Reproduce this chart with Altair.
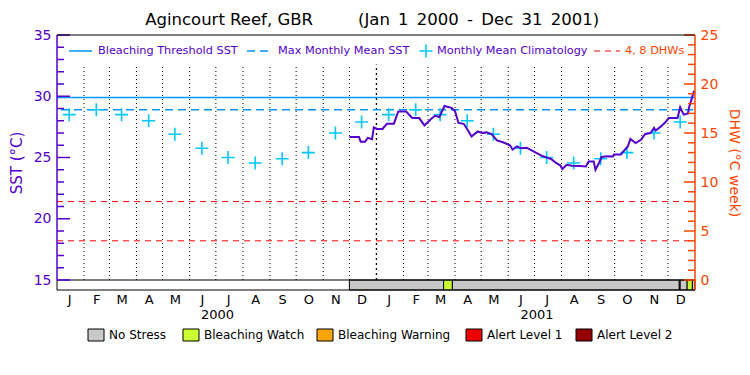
import altair as alt
import pandas as pd

FONT = "DejaVu Sans"
PURPLE = "#5500CC"
ORANGE = "#FF4500"
BLUE = "#0096FF"
CYAN = "#00C8FF"
RED = "#FF0000"

# ---------------- data ----------------
title_left = "Agincourt Reef, GBR"
title_right = "(Jan\u20021\u20022000\u2002-\u2002Dec\u200231\u20022001)"

sst_dates = [
    "2000-12-01", "2000-12-12", "2000-12-14", "2000-12-19", "2000-12-22", "2000-12-27", "2000-12-29",
    "2001-01-02", "2001-01-08", "2001-01-13", "2001-01-21", "2001-01-26", "2001-02-04", "2001-02-08",
    "2001-02-11", "2001-02-19", "2001-02-25", "2001-03-04", "2001-03-09", "2001-03-14", "2001-03-20",
    "2001-03-28", "2001-04-01", "2001-04-05", "2001-04-11", "2001-04-16", "2001-04-20", "2001-04-27",
    "2001-05-02", "2001-05-07", "2001-05-13", "2001-05-19", "2001-05-26", "2001-06-03", "2001-06-06",
    "2001-06-11", "2001-06-16", "2001-06-22", "2001-06-30", "2001-07-09", "2001-07-20", "2001-07-25",
    "2001-07-31", "2001-08-02", "2001-08-07", "2001-08-13", "2001-08-22", "2001-08-29", "2001-09-01",
    "2001-09-07", "2001-09-09", "2001-09-13", "2001-09-16", "2001-09-22", "2001-09-29", "2001-09-30",
    "2001-10-08", "2001-10-11", "2001-10-16", "2001-10-19", "2001-10-25", "2001-10-31", "2001-11-05",
    "2001-11-11", "2001-11-15", "2001-11-17", "2001-11-23", "2001-11-28", "2001-12-02", "2001-12-12",
    "2001-12-15", "2001-12-19", "2001-12-24", "2001-12-25", "2001-12-29", "2001-12-31",
]
sst_values = [
    26.67, 26.67, 26.29, 26.29, 26.60, 26.50, 27.46,
    27.33, 27.33, 27.76, 27.76, 28.76, 28.76, 28.45,
    28.22, 28.22, 27.62, 28.10, 28.40, 28.30, 29.20,
    29.05, 28.80, 27.82, 27.75, 27.20, 26.72, 27.13,
    27.00, 27.05, 26.90, 26.40, 26.24, 26.00, 25.64,
    25.90, 25.75, 25.80, 25.50, 25.15, 24.88, 24.60,
    24.33, 24.06, 24.41, 24.33, 24.30, 24.27, 24.68,
    24.68, 24.00, 24.55, 25.04, 25.10, 25.09, 25.25,
    25.25, 25.50, 25.90, 26.51, 26.18, 26.45, 26.92,
    27.00, 27.41, 27.20, 27.54, 27.87, 28.22, 28.22,
    29.10, 28.50, 28.60, 29.04, 29.99, 30.45,
]

clim_monthly = [28.5, 28.9, 28.5, 28.0, 26.9, 25.75, 25.0, 24.55, 24.9, 25.4, 27.0, 27.9]
years_num = [2000, 2001]
clim_dates = [f"{y}-{m:02d}-15" for y in years_num for m in range(1, 13)]
clim_values = clim_monthly * len(years_num)

month_letters = ["J", "F", "M", "A", "M", "J", "J", "A", "S", "O", "N", "D"]
month_lines = [f"{y}-{m:02d}-01" for y in years_num for m in range(1, 13) if m != 1]
year_lines = ["2001-01-01"]
year_labels = ["2000", "2001"]
year_label_dates = ["2000-07-03", "2001-07-04"]

threshold_sst = 29.9
mmm_sst = 28.9
dhw_levels = [4, 8]

stress_levels = ["No Stress", "Bleaching Watch", "Bleaching Warning", "Alert Level 1", "Alert Level 2"]
stress_colors = ["#C8C8C8", "#CCFF33", "#FAA50A", "#EE0000", "#960000"]
stress_start = ["2000-12-01", "2001-03-19", "2001-03-29", "2001-12-14", "2001-12-15", "2001-12-23", "2001-12-29"]
stress_end = ["2001-03-19", "2001-03-29", "2001-12-14", "2001-12-15", "2001-12-23", "2001-12-29", "2002-01-01"]
stress_cat = ["No Stress", "Bleaching Watch", "No Stress", "Bleaching Watch", "No Stress", "Bleaching Watch", "No Stress"]

legend_labels = ["Bleaching Threshold SST", "Max Monthly Mean SST", "Monthly Mean Climatology", "4, 8 DHWs"]

sst_major = [15, 20, 25, 30, 35]
sst_minor = [v for v in range(16, 35) if v % 5]
dhw_major = [0, 5, 10, 15, 20, 25]
dhw_minor = [v for v in range(1, 25) if v % 5]

# ---------------- layout ----------------
W, H = 638, 255
STRIP_PX = 10
px_per_c = (H - STRIP_PX) / (35 - 15)
sst_low = 15 - STRIP_PX / px_per_c
dhw_per_c = 25 / (35 - 15)
dhw_low = (sst_low - 15) * dhw_per_c

xsc = alt.Scale(type="utc", domain=[alt.DateTime(year=2000, month=1, date=1, utc=True),
                                    alt.DateTime(year=2002, month=1, date=1, utc=True)])
ysc = alt.Scale(domain=[sst_low, 35], nice=False, zero=False)
dsc = alt.Scale(domain=[dhw_low, 25], nice=False, zero=False)

label_expr = "[" + ",".join(f"'{m}'" for m in month_letters) + "][utcmonth(datum.value)]"
x_axis = alt.Axis(
    values=[alt.DateTime(year=y, month=m, date=15, utc=True) for y in years_num for m in range(1, 13)],
    labelExpr=label_expr, ticks=False, domain=False, grid=False, labelAngle=0,
    labelFont=FONT, labelFontSize=13, labelColor="black", labelPadding=3,
    labelOverlap=False, labelFlush=False, title=None,
)


def X(field):
    return alt.X(field, type="temporal", scale=xsc, axis=x_axis)


def YS(field):
    return alt.Y(field, type="quantitative", scale=ysc, axis=None)


one = pd.DataFrame({"k": [0]})

# month dotted lines
df_ml = pd.DataFrame({"d": month_lines})
df_ml["top"] = 32.6
df_ml["bot"] = 15
month_rules = alt.Chart(df_ml).mark_rule(color="black", strokeDash=[1, 3], strokeWidth=1).encode(
    x=X("d"), y=YS("bot"), y2="top")
df_yl = pd.DataFrame({"d": year_lines})
df_yl["top"] = 32.6
df_yl["bot"] = 15
year_rules = alt.Chart(df_yl).mark_rule(color="black", strokeDash=[2, 3], strokeWidth=1.3).encode(
    x=X("d"), y=YS("bot"), y2="top")

# threshold lines
thr = alt.Chart(pd.DataFrame({"v": [threshold_sst]})).mark_rule(color=BLUE, strokeWidth=1.5).encode(
    y=YS("v"), x=alt.value(0), x2=alt.value(W))
mmm = alt.Chart(pd.DataFrame({"v": [mmm_sst]})).mark_rule(color=BLUE, strokeWidth=1.5, strokeDash=[8, 5]).encode(
    y=YS("v"), x=alt.value(4), x2=alt.value(W))

# DHW lines (on DHW scale)
dhw_lines = alt.Chart(pd.DataFrame({"v": dhw_levels})).mark_rule(color=RED, strokeWidth=1, strokeDash=[6, 5]).encode(
    y=alt.Y("v:Q", scale=dsc, axis=None), x=alt.value(0), x2=alt.value(W))

# stress strip
df_s = pd.DataFrame({"s": stress_start, "e": stress_end, "cat": stress_cat})
df_s["top"] = 15
df_s["bot"] = sst_low
strip = alt.Chart(df_s).mark_rect(stroke="black", strokeWidth=1).encode(
    x=X("s"), x2="e", y=YS("bot"), y2="top",
    color=alt.Color("cat:N", scale=alt.Scale(domain=stress_levels, range=stress_colors), legend=None),
)
strip_top = alt.Chart(pd.DataFrame({"v": [15]})).mark_rule(color="black", strokeWidth=1).encode(
    y=YS("v"), x=alt.value(0), x2=alt.value(W))

# climatology crosses
cross_shape = "M-1,0L1,0M0,-1L0,1"
clim = alt.Chart(pd.DataFrame({"d": clim_dates, "v": clim_values})).mark_point(
    shape=cross_shape, size=169, filled=False, color=CYAN, strokeWidth=1.6, opacity=1).encode(
    x=X("d"), y=YS("v"))

# SST line
sst_line = alt.Chart(pd.DataFrame({"d": sst_dates, "v": sst_values})).mark_line(
    color=PURPLE, strokeWidth=2).encode(
    x=X("d"),
    y=alt.Y("v:Q", scale=ysc, axis=alt.Axis(
        values=sst_major, ticks=False, domain=False, grid=False,
        labelFont=FONT, labelFontSize=14, labelColor=PURPLE, labelPadding=6,
        title="SST (°C)", titleFont=FONT, titleFontSize=15, titleFontWeight="normal",
        titleColor=PURPLE, titlePadding=9)),
)

# left axis line & ticks
left_line = alt.Chart(pd.DataFrame({"a": [15], "b": [35]})).mark_rule(color=PURPLE, strokeWidth=1.5).encode(
    y=YS("a"), y2="b", x=alt.value(0))
left_major = alt.Chart(pd.DataFrame({"v": sst_major})).mark_rule(color=PURPLE, strokeWidth=1.5).encode(
    y=YS("v"), x=alt.value(0), x2=alt.value(13))
left_minor = alt.Chart(pd.DataFrame({"v": sst_minor})).mark_rule(color=PURPLE, strokeWidth=1.5).encode(
    y=YS("v"), x=alt.value(0), x2=alt.value(7))

# right axis (DHW)
right_axis_layer = alt.Chart(pd.DataFrame({"v": dhw_major})).mark_rule(color=ORANGE, strokeWidth=1.5).encode(
    y=alt.Y("v:Q", scale=dsc, axis=alt.Axis(
        orient="right", values=dhw_major, ticks=False, domain=False, grid=False,
        labelFont=FONT, labelFontSize=14, labelColor=ORANGE, labelPadding=5,
        title="DHW (°C week)", titleFont=FONT, titleFontSize=14, titleFontWeight="normal",
        titleColor=ORANGE, titlePadding=9)),
    x=alt.value(W), x2=alt.value(W - 11))
right_minor = alt.Chart(pd.DataFrame({"v": dhw_minor})).mark_rule(color=ORANGE, strokeWidth=1.5).encode(
    y=alt.Y("v:Q", scale=dsc, axis=None), x=alt.value(W), x2=alt.value(W - 7))

# frame
frame_top = alt.Chart(one).mark_rule(color="black", strokeWidth=1).encode(
    x=alt.value(0), x2=alt.value(W), y=alt.value(0))
frame_bot = alt.Chart(one).mark_rule(color="black", strokeWidth=1).encode(
    x=alt.value(0), x2=alt.value(W), y=alt.value(H))
frame_left = alt.Chart(one).mark_rule(color="black", strokeWidth=1).encode(
    x=alt.value(0), y=alt.value(H - STRIP_PX), y2=alt.value(H))
frame_right = alt.Chart(one).mark_rule(color=ORANGE, strokeWidth=1.5).encode(
    x=alt.value(W), y=alt.value(0), y2=alt.value(H))

# title (two parts with a wide gap as in the original)
title_l = alt.Chart(pd.DataFrame({"t": [title_left]})).mark_text(
    font=FONT, fontSize=16.5, color="black", align="right", baseline="alphabetic").encode(
    x=alt.value(256), y=alt.value(-10), text="t:N")
title_r = alt.Chart(pd.DataFrame({"t": [title_right]})).mark_text(
    font=FONT, fontSize=16.5, color="black", align="left", baseline="alphabetic").encode(
    x=alt.value(301), y=alt.value(-10), text="t:N")

# year labels
years_txt = alt.Chart(pd.DataFrame({"d": year_label_dates, "t": year_labels})).mark_text(
    font=FONT, fontSize=13, color="black", baseline="middle", align="center").encode(
    x=X("d"), y=alt.value(280), text="t:N")

# top legend
LY = 16
LFS = 11.3


def leg_text(label, x, color):
    return alt.Chart(pd.DataFrame({"t": [label]})).mark_text(
        font=FONT, fontSize=LFS, color=color, align="left", baseline="middle").encode(
        x=alt.value(x), y=alt.value(LY), text="t:N")


leg1_line = alt.Chart(one).mark_rule(color=BLUE, strokeWidth=1.5).encode(
    x=alt.value(12), x2=alt.value(35), y=alt.value(LY))
leg2_line = alt.Chart(one).mark_rule(color=BLUE, strokeWidth=1.5, strokeDash=[8, 5]).encode(
    x=alt.value(190), x2=alt.value(216), y=alt.value(LY))
leg3_pt = alt.Chart(one).mark_point(shape=cross_shape, size=169, filled=False, color=CYAN,
                                    strokeWidth=1.6, opacity=1).encode(
    x=alt.value(369), y=alt.value(LY))
leg4_line = alt.Chart(one).mark_rule(color=RED, strokeWidth=1, strokeDash=[6, 5]).encode(
    x=alt.value(537), x2=alt.value(563), y=alt.value(LY))

# bottom (stress level) legend
stress_leg_x = [31, 126, 260, 409, 519]
BY0, BY1 = 294, 306
stress_leg = []
for lab, col, lx in zip(stress_levels, stress_colors, stress_leg_x):
    stress_leg.append(alt.Chart(pd.DataFrame({"t": [lab]})).mark_rect(
        color=col, stroke="black", strokeWidth=1).encode(
        x=alt.value(lx), x2=alt.value(lx + 16), y=alt.value(BY0), y2=alt.value(BY1)))
    stress_leg.append(alt.Chart(pd.DataFrame({"t": [lab]})).mark_text(
        font=FONT, fontSize=12, color="black", align="left", baseline="middle").encode(
        x=alt.value(lx + 21), y=alt.value((BY0 + BY1) / 2), text="t:N"))

layers = [
    month_rules, year_rules, dhw_lines, thr, mmm, clim, sst_line, strip, strip_top,
    left_line, left_major, left_minor, right_axis_layer, right_minor,
    frame_top, frame_bot, frame_left, frame_right, title_l, title_r, years_txt,
    leg1_line, leg_text(legend_labels[0], 41, PURPLE),
    leg2_line, leg_text(legend_labels[1], 221, PURPLE),
    leg3_pt, leg_text(legend_labels[2], 380, PURPLE),
    leg4_line, leg_text(legend_labels[3], 568, ORANGE),
] + stress_leg

chart = alt.layer(*layers).resolve_scale(y="independent").properties(
    width=W, height=H,
    padding={"left": 57, "top": 35, "right": 55, "bottom": 85},
    autosize=alt.AutoSizeParams(type="none"),
    background="white",
).configure_view(stroke=None)

chart.save("out.html", embed_options={"renderer": "svg", "actions": False})
